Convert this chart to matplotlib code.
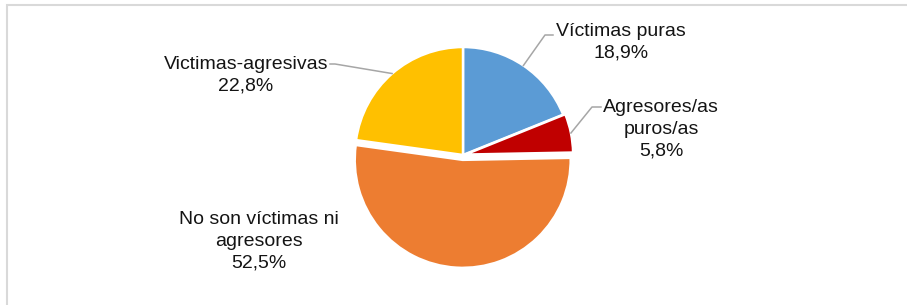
import numpy as np
import matplotlib.pyplot as plt
from matplotlib.patches import Rectangle

plt.rcParams['font.family'] = ['Liberation Sans Narrow', 'Liberation Sans', 'DejaVu Sans']

# data
labels = ["Víctimas puras", "Agresores/as\npuros/as", "No son víctimas ni\nagresores", "Victimas-agresivas"]
values = [18.9, 5.8, 52.5, 22.8]
colors = ["#5B9BD5", "#C00000", "#ED7D31", "#FFC000"]

W, H = 907, 305
cx, cy, R = 463, 155, 108   # pie centre / radius in pixels

def to_data(px, py):
    return (px - cx) / R, (cy - py) / R

fig = plt.figure(figsize=(W / 100, H / 100), dpi=100)
ax = fig.add_axes([0, 0, 1, 1])

wedges, _ = ax.pie(values, colors=colors, startangle=90, counterclock=False,
                   explode=[0.0, 0.02, 0.045, 0.0],
                   wedgeprops=dict(edgecolor="white", linewidth=1.8))

ax.set_xlim(-cx / R, (W - cx) / R)
ax.set_ylim(-(H - cy) / R, cy / R)
ax.set_aspect("equal")
ax.axis("off")

# labels: text centre (px) and leader polyline elbow points (px)
label_pos = [(621, 42), (661, 129), (259, 241), (246, 75)]
leaders = [[(545, 35), (553, 35)],
           [(592, 107), (601, 107)],
           None,
           [(335, 64), (330, 64)]]

for i, w in enumerate(wedges):
    txt = labels[i] + "\n" + ("%.1f%%" % values[i]).replace(".", ",")
    x, y = to_data(*label_pos[i])
    ax.text(x, y, txt, ha="center", va="center", fontsize=14,
            color="#141414", linespacing=1.35)
    if leaders[i] is not None:
        ang = np.deg2rad((w.theta1 + w.theta2) / 2)
        ex = w.center[0] + np.cos(ang) * w.r
        ey = w.center[1] + np.sin(ang) * w.r
        pts = [(ex, ey)] + [to_data(*p) for p in leaders[i]]
        ax.plot([p[0] for p in pts], [p[1] for p in pts], color="#A6A6A6", lw=1.1)

# light grey frame of the chart area
fig.patches.append(Rectangle((6.5 / W, -0.05), 1.2, (H - 4.5) / H + 0.05,
                             transform=fig.transFigure, fill=False,
                             edgecolor="#D9D9D9", linewidth=1.5))

fig.savefig("out.png", dpi=100)
